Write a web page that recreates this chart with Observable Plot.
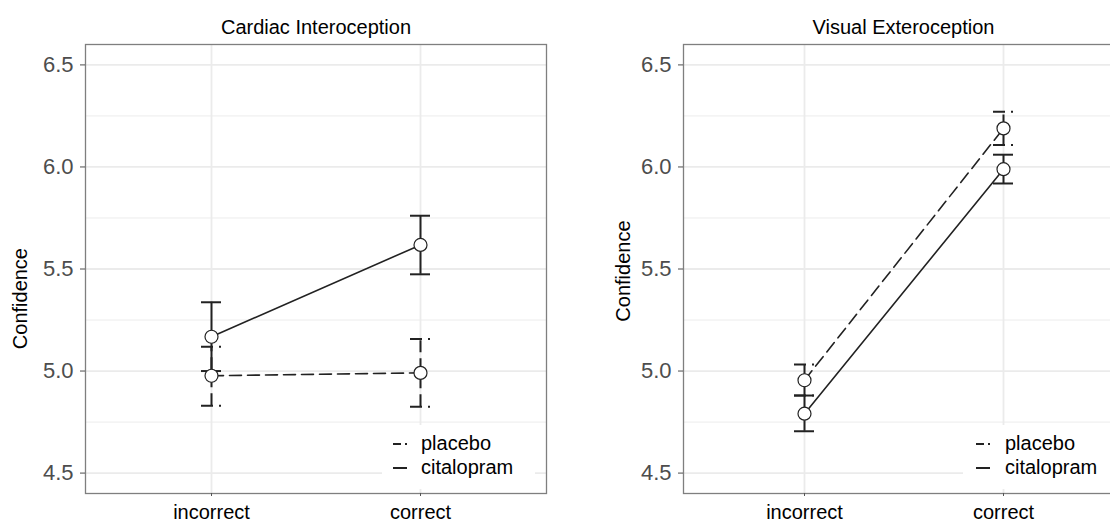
<!DOCTYPE html>
<html>
<head>
<meta charset="utf-8">
<script src="https://cdn.jsdelivr.net/npm/d3@7"></script>
<script src="https://cdn.jsdelivr.net/npm/@observablehq/plot@0.6"></script>
<style>
html, body { margin: 0; padding: 0; background: #fff; overflow: hidden; width: 1110px; height: 523px; }
#wrap { position: relative; width: 1110px; height: 523px; overflow: hidden; font-family: "Liberation Sans", Arial, Helvetica, sans-serif; }
.panel { position: absolute; top: 0; }
.panel svg { max-width: none !important; display: block; }
.legend { position: absolute; background: #fff; }
.legend svg { display: block; }
</style>
</head>
<body>
<div id="wrap"></div>
<script>
// ---- data ----
const conditions = ["incorrect", "correct"];
const groups = ["placebo", "citalopram"];
const yTicks = [4.5, 5.0, 5.5, 6.0, 6.5];
const yMinorTicks = [4.75, 5.25, 5.75, 6.25];
const panelTitles = ["Cardiac Interoception", "Visual Exteroception"];
const yLabel = "Confidence";
const yLabelCenters = [5.355, 5.49];

const cardiacPlaceboMean = [4.977, 4.991];
const cardiacPlaceboLow = [4.830, 4.825];
const cardiacPlaceboHigh = [5.119, 5.157];
const cardiacCitalopramMean = [5.168, 5.618];
const cardiacCitalopramLow = [5.000, 5.474];
const cardiacCitalopramHigh = [5.337, 5.761];

const visualPlaceboMean = [4.955, 6.189];
const visualPlaceboLow = [4.880, 6.107];
const visualPlaceboHigh = [5.032, 6.271];
const visualCitalopramMean = [4.791, 5.989];
const visualCitalopramLow = [4.705, 5.919];
const visualCitalopramHigh = [4.880, 6.060];

function rows(group, mean, lo, hi) {
  return conditions.map((c, i) => ({group, cond: c, mean: mean[i], lo: lo[i], hi: hi[i]}));
}
const cardiac = [
  ...rows("placebo", cardiacPlaceboMean, cardiacPlaceboLow, cardiacPlaceboHigh),
  ...rows("citalopram", cardiacCitalopramMean, cardiacCitalopramLow, cardiacCitalopramHigh)
];
const visual = [
  ...rows("placebo", visualPlaceboMean, visualPlaceboLow, visualPlaceboHigh),
  ...rows("citalopram", visualCitalopramMean, visualCitalopramLow, visualCitalopramHigh)
];

const INK = "#222";
const DASH = "12,6";
const FONT = '"Liberation Sans", Arial, Helvetica, sans-serif';

function groupMarks(data, group, dash) {
  const d = data.filter(r => r.group === group);
  const common = {stroke: INK, strokeDasharray: dash};
  return [
    Plot.ruleX(d, {x: "cond", y1: "lo", y2: "hi", strokeWidth: 2, ...common}),
    Plot.ruleY(d, {y: "lo", x1: "cond", x2: "cond", insetLeft: -10, insetRight: -10, strokeWidth: 2, ...common}),
    Plot.ruleY(d, {y: "hi", x1: "cond", x2: "cond", insetLeft: -10, insetRight: -10, strokeWidth: 2, ...common}),
    Plot.line(d, {x: "cond", y: "mean", strokeWidth: 1.6, ...common})
  ];
}

function panel(data, title, width, marginLeft, marginRight, yLabelDx, yLabelCenter) {
  return Plot.plot({
    width, height: 523,
    marginTop: 44, marginBottom: 30, marginLeft, marginRight,
    style: {fontFamily: FONT, background: "transparent", overflow: "visible"},
    x: {type: "point", domain: conditions, padding: 0.6, axis: null},
    y: {domain: [4.4, 6.6], axis: null},
    marks: [
      Plot.gridY(yMinorTicks, {stroke: "#ececec", strokeOpacity: 1, strokeWidth: 1}),
      Plot.gridY(yTicks, {stroke: "#ebebeb", strokeOpacity: 1, strokeWidth: 1.8}),
      Plot.gridX(conditions, {stroke: "#ebebeb", strokeOpacity: 1, strokeWidth: 1.8}),
      Plot.frame({stroke: "#7f7f7f", strokeWidth: 1.3}),
      Plot.axisY(yTicks, {tickSize: 5, tickPadding: 7, tickFormat: d3.format(".1f"), fontSize: 22, color: "#4d4d4d", label: null}),
      Plot.axisX(conditions, {tickSize: 3, tickPadding: 8, fontSize: 20, color: "#000", stroke: "#555", label: null}),
      ...groupMarks(data, "placebo", DASH),
      ...groupMarks(data, "citalopram", null),
      Plot.dot(data, {x: "cond", y: "mean", r: 6.5, fill: "#fff", stroke: INK, strokeWidth: 1.2}),
      Plot.text([title], {frameAnchor: "top", dy: -11, lineAnchor: "bottom", fontSize: 20, fill: "#000"}),
      Plot.text([yLabelCenter], {y: d => d, text: () => yLabel, frameAnchor: "left", textAnchor: "middle", rotate: -90, dx: yLabelDx, fontSize: 20, fill: "#000"})
    ]
  });
}

function legend(left, top, keyX, textX) {
  const div = document.createElement("div");
  div.className = "legend";
  div.style.left = left + "px";
  div.style.top = top + "px";
  div.style.width = "153px";
  div.style.height = "64px";
  const svg = d3.create("svg").attr("width", 153).attr("height", 64)
    .style("font-family", FONT).style("font-size", "20px");
  const keys = [
    {label: groups[0], dash: "8,4", ky: 19, ty: 25},
    {label: groups[1], dash: null, ky: 43, ty: 49}
  ];
  for (const k of keys) {
    svg.append("line").attr("x1", keyX).attr("x2", keyX + 14).attr("y1", k.ky).attr("y2", k.ky)
      .attr("stroke", INK).attr("stroke-width", 2).attr("stroke-dasharray", k.dash);
    svg.append("text").attr("x", textX).attr("y", k.ty).attr("fill", "#000").text(k.label);
  }
  div.appendChild(svg.node());
  return div;
}

const wrap = document.getElementById("wrap");
const p1 = document.createElement("div");
p1.className = "panel"; p1.style.left = "0px"; p1.style.width = "560px";
p1.appendChild(panel(cardiac, panelTitles[0], 560, 85, 14, -65, yLabelCenters[0]));
wrap.appendChild(p1);

const p2 = document.createElement("div");
p2.className = "panel"; p2.style.left = "560px"; p2.style.width = "580px";
p2.appendChild(panel(visual, panelTitles[1], 580, 123, 17, -60, yLabelCenters[1]));
wrap.appendChild(p2);

wrap.appendChild(legend(382, 425, 11, 39));
wrap.appendChild(legend(963, 425, 13, 42));
</script>
</body>
</html>
